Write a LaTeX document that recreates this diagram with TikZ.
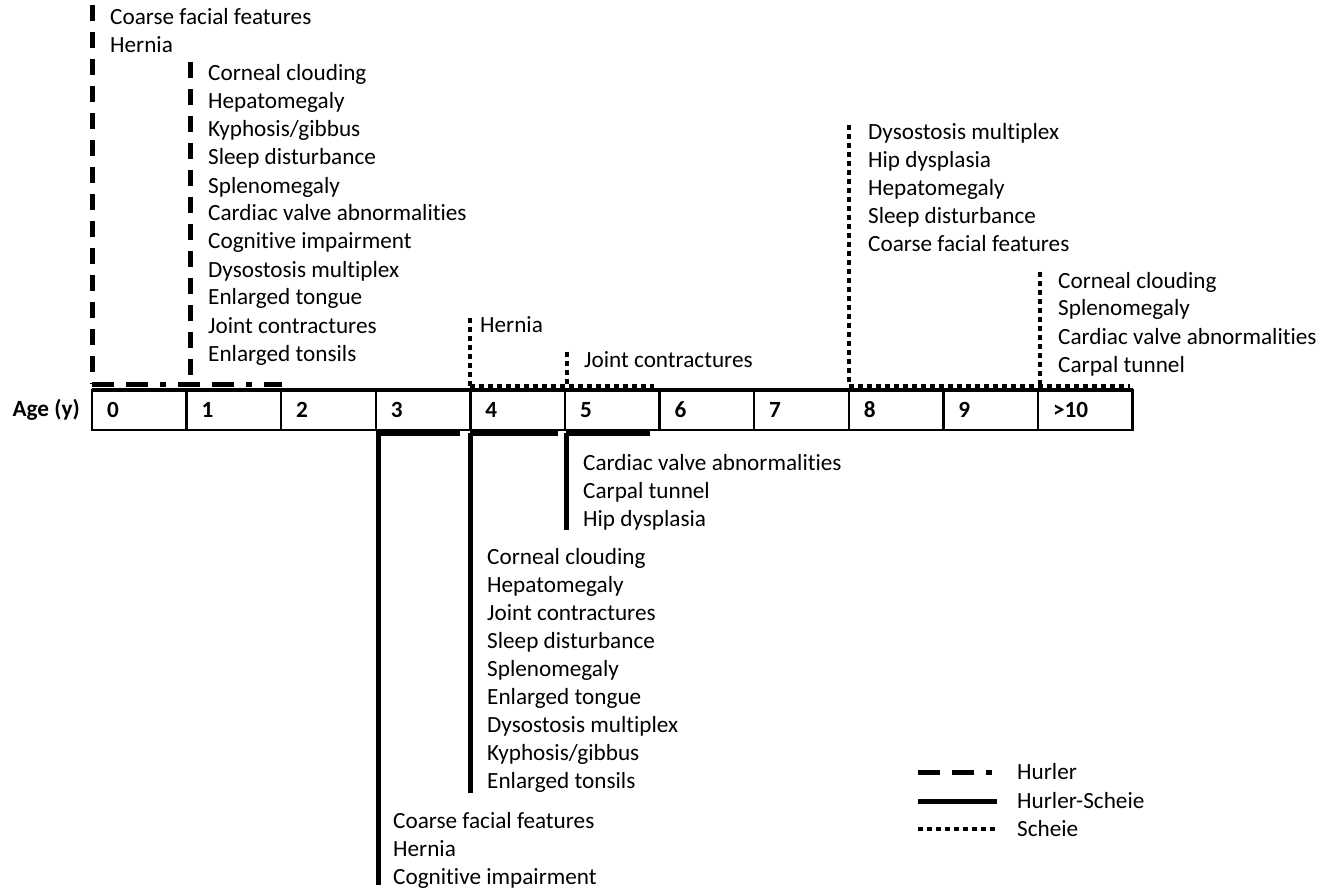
\documentclass[tikz,border=0pt]{standalone}
\usepackage{fontspec}
\setmainfont{Carlito}[Ligatures=NoCommon]
\usetikzlibrary{positioning}

\newcommand{\chartfont}{\fontsize{23.2}{28}\selectfont}

\tikzset{
  cell/.style={draw, line width=2.5pt, outer sep=0pt, minimum height=40pt,
    text width=64.6pt, inner xsep=15pt, align=left, font=\chartfont\bfseries},
  % anchored at the baseline of the last line
  items/.style={anchor=base west, inner sep=0pt, align=left, font=\chartfont},
  hurler/.style={line width=5pt,
    dash pattern=on 22pt off 12pt on 22pt off 12pt on 6pt off 12pt},
  hurlerstem/.style={line width=5pt, dash pattern=on 16pt off 11pt},
  hurlerscheie/.style={line width=5pt},
  scheie/.style={line width=4.5pt, dash pattern=on 5pt off 4pt},
}

\begin{document}
\begin{tikzpicture}[x=1pt, y=-1pt]
  \useasboundingbox (0,0) rectangle (1338,890);

  % age axis
  \node[cell, anchor=north west] (c0) at (92,390) {0};
  \node[cell, right=0pt of c0] (c1) {1};
  \node[cell, right=0pt of c1] (c2) {2};
  \node[cell, right=0pt of c2] (c3) {3};
  \node[cell, right=0pt of c3] (c4) {4};
  \node[cell, right=0pt of c4] (c5) {5};
  \node[cell, right=0pt of c5] (c6) {6};
  \node[cell, right=0pt of c6] (c7) {7};
  \node[cell, right=0pt of c7] (c8) {8};
  \node[cell, right=0pt of c8] (c9) {9};
  \node[cell, right=0pt of c9] (c10) {>10};
  \draw[line width=4pt] (c0.north west) -- (c10.north east);
  \node[font=\chartfont\bfseries, anchor=east, inner sep=0pt] (age) at (80,410) {Age (y)};

  % Hurler (above)
  \node[items] (hurA) at (110,53) {Coarse facial features\\Hernia};
  \node[items] (hurB) at (208,361) {Corneal clouding\\Hepatomegaly\\Kyphosis/gibbus\\Sleep disturbance\\Splenomegaly\\Cardiac valve abnormalities\\Cognitive impairment\\Dysostosis multiplex\\Enlarged tongue\\Joint contractures\\Enlarged tonsils};

  \coordinate (hurA top) at (92,5);
  \coordinate (hurA foot) at (92,384);
  \coordinate (hurB top) at (190,62);
  \coordinate (hurB foot) at (190,384);
  \coordinate (hur end) at (282,384);
  \draw[hurlerstem] (hurA top) -- (hurA foot);
  \draw[hurlerstem] (hurB top) -- (hurB foot);
  \draw[hurler] (hurA foot) -- (hur end);

  % Scheie (above)
  \node[items] (schA) at (480,333) {Hernia};
  \node[items] (schB) at (584,367) {Joint contractures};
  \node[items] (schC) at (868,252) {Dysostosis multiplex\\Hip dysplasia\\Hepatomegaly\\Sleep disturbance\\Coarse facial features};
  \node[items] (schD) at (1058,372) {Corneal clouding\\Splenomegaly\\Cardiac valve abnormalities\\Carpal tunnel};

  \coordinate (schA top) at (470,318);
  \coordinate (schA foot) at (470,386);
  \coordinate (schB top) at (567,352);
  \coordinate (schB foot) at (567,386);
  \coordinate (schC top) at (849,125);
  \coordinate (schC foot) at (849,386);
  \coordinate (schD top) at (1040,272);
  \coordinate (schD foot) at (1040,386);
  \coordinate (schA end) at (654,386);
  \coordinate (schC end) at (1130,386);
  \draw[scheie] (schA top) -- (schA foot);
  \draw[scheie] (schB top) -- (schB foot);
  \draw[scheie] (schC top) -- (schC foot);
  \draw[scheie] (schD top) -- (schD foot);
  \draw[scheie] (schA foot) -- (schA end);
  \draw[scheie] (schC foot) -- (schC end);

  % Hurler-Scheie (below)
  \node[items] (hsA) at (583,526) {Cardiac valve abnormalities\\Carpal tunnel\\Hip dysplasia};
  \node[items] (hsB) at (487,788) {Corneal clouding\\Hepatomegaly\\Joint contractures\\Sleep disturbance\\Splenomegaly\\Enlarged tongue\\Dysostosis multiplex\\Kyphosis/gibbus\\Enlarged tonsils};
  \node[items] (hsC) at (393,884) {Coarse facial features\\Hernia\\Cognitive impairment};

  \coordinate (hsC start) at (376,433);
  \coordinate (hsC head) at (378,433);
  \coordinate (hsC foot) at (378,885);
  \coordinate (hsC end) at (460,433);
  \coordinate (hsB head) at (470,433);
  \coordinate (hsB foot) at (470,793);
  \coordinate (hsB end) at (558,433);
  \coordinate (hsA head) at (566,433);
  \coordinate (hsA foot) at (566,530);
  \coordinate (hsA end) at (650,433);
  \draw[hurlerscheie] (hsC start) -- (hsC end);
  \draw[hurlerscheie] (hsB head) -- (hsB end);
  \draw[hurlerscheie] (hsA head) -- (hsA end);
  \draw[hurlerscheie] (hsC head) -- (hsC foot);
  \draw[hurlerscheie] (hsB head) -- (hsB foot);
  \draw[hurlerscheie] (hsA head) -- (hsA foot);

  % legend
  \node[items, anchor=west] (leg1) at (1017,772) {Hurler};
  \node[items, anchor=west] (leg2) at (1017,801) {Hurler-Scheie};
  \node[items, anchor=west] (leg3) at (1017,829) {Scheie};
  \coordinate (leg1 a) at (918,772);
  \coordinate (leg1 b) at (997,772);
  \coordinate (leg2 a) at (918,801);
  \coordinate (leg2 b) at (997,801);
  \coordinate (leg3 a) at (918,829);
  \coordinate (leg3 b) at (997,829);
  \draw[hurler] (leg1 a) -- (leg1 b);
  \draw[hurlerscheie] (leg2 a) -- (leg2 b);
  \draw[scheie] (leg3 a) -- (leg3 b);
\end{tikzpicture}
\end{document}
